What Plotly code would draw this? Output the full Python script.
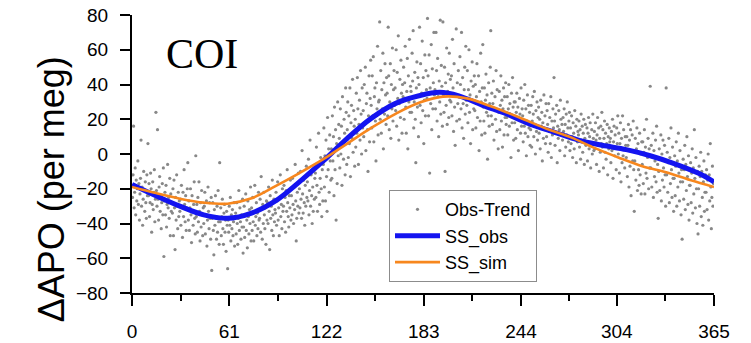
import plotly.graph_objects as go

# ---------------- data ----------------
x_ticks = [0, 61, 122, 183, 244, 304, 365]
x_minor = [30.5, 91.5, 152.5, 213.5, 274, 334.5]
y_ticks = [-80, -60, -40, -20, 0, 20, 40, 60, 80]
y_ticklabels = ["\u221280", "\u221260", "\u221240", "\u221220", "0", "20", "40", "60", "80"]

# smooth seasonal curves (day of year, per meg)
ss_obs_day = [0, 15, 30, 45, 60, 75, 90, 105, 120, 135, 150, 165, 180, 193, 205,
              220, 235, 250, 265, 280, 295, 310, 325, 340, 355, 365]
ss_obs_val = [-17.5, -24, -30, -35, -37, -34, -27, -16, -4, 9, 20.5, 29, 33.5, 35.5, 33.5,
              28, 23, 17, 12.5, 8, 5, 2.5, -1, -5.5, -11, -16]

ss_sim_day = [0, 15, 30, 45, 60, 75, 90, 105, 120, 135, 150, 165, 180, 195, 210,
              225, 243, 260, 275, 290, 305, 320, 335, 350, 365]
ss_sim_val = [-19, -22.5, -25.7, -28, -28.6, -25.5, -18.5, -11, -3, 6, 15, 23, 29.5, 33, 32,
              27.5, 21, 14.5, 9.7, 3.5, -2, -7, -10.5, -15, -19]

# Obs-Trend scatter: values in 5-day bins (15 values per bin, 1/3 day apart)
obs_trend_bins = [
    [-18, -25, -12, 16, -31, -22, -8, -35, -15, -27, -20, -4, -29, -17, -38],
    [-23, -14, 8, -30, -19, -41, -26, -10, -21, -33, -16, -28, -37, -12, -24],
    [6, -24, -17, -36, -28, -11, -20, -45, -29, -16, -32, -22, -9, -39, -26],
    [24, -21, -30, 14, -26, -38, -19, -13, -33, -24, -43, -28, -17, -35, -8],
    [-59, -27, -22, -35, -18, -42, -29, -6, -31, -25, -37, -14, -47, -23, -33],
    [-28, -34, -20, -47, -15, -31, -55, -25, -38, -12, -30, -43, -22, -36, -27],
    [-33, -26, -41, -18, -30, -48, -22, -36, -9, -29, -39, -24, -44, -31, -20],
    [-5, -38, -27, -44, -31, -20, -35, -51, -24, -33, -41, -29, -16, -37, -46],
    [-1, -36, -29, -45, -25, -39, -16, -33, -50, -28, -42, -21, -35, -47, -31],
    [-40, -30, -22, -46, -35, -27, -53, -38, -19, -33, -43, -28, -37, -49, -25],
    [-67, -37, -28, -44, -58, -32, -41, -24, -36, -49, -30, -45, -21, -39, -52],
    [-5, -39, -31, -47, -36, -26, -43, -52, -34, -29, -45, -38, -56, -33, -41],
    [-66, -38, -45, -30, -41, -25, -50, -35, -43, -32, -47, -39, -28, -53, -36],
    [-34, -46, -28, -40, -52, -37, -21, -44, -31, -39, -49, -35, -42, -26, -57],
    [-42, -30, -48, -35, -23, -44, -38, -54, -27, -36, -46, -32, -40, -19, -50],
    [-31, -44, -25, -39, -50, -33, -18, -41, -36, -28, -47, -34, -43, -22, -38],
    [-37, -26, -45, -13, -32, -49, -29, -40, -22, -35, -43, -31, -52, -27, -38],
    [-28, -40, -19, -33, -55, -24, -37, -30, -44, -15, -35, -47, -26, -39, -32],
    [-34, -22, -41, -27, -16, -38, -31, -47, -25, -12, -36, -29, -43, -20, -33],
    [-30, -18, -39, -25, -45, -21, -33, -9, -28, -36, -42, -24, -31, -15, -38],
    [-24, -35, -14, -29, -40, -19, -32, -6, -27, -50, -37, -22, -30, -11, -34],
    [-20, -31, -10, -26, -37, 2, -23, -34, -15, -28, -41, -18, -30, -7, -25],
    [-16, -27, -3, -35, -21, 8, -30, -12, -24, -40, -19, -33, -9, -26, -14],
    [-11, -25, 4, -18, -33, -7, 12, -22, -29, -14, -2, -20, -36, -9, -27],
    [-6, 15, -19, -1, -27, 8, -13, -33, 21, -9, 3, -22, 11, -4, -15],
    [3, -14, 22, -4, 10, -24, 27, -9, 14, -38, 6, -17, 30, -1, 17],
    [9, -8, 26, 0, 16, -18, 33, 5, -3, 20, 12, -12, 38, 24, -6],
    [14, 30, -2, 22, 6, 38, -13, 18, 28, 9, 43, 1, 25, 16, -7],
    [20, 4, 35, 12, 44, 26, -6, 17, 31, 8, 48, 23, 0, 38, 15],
    [25, 10, 40, 18, 50, 2, 29, 35, 14, -10, 22, 45, 7, 32, 54],
    [28, 15, 45, 22, 56, 7, 33, 38, 19, -4, 41, 26, 62, 11, 30],
    [31, 76, 20, 48, 12, 37, 26, 58, 3, 41, 23, 52, 34, 17, 44],
    [35, 22, 73, 45, 14, 30, 52, 9, 40, 26, 61, 19, 37, 48, 28],
    [38, 25, 60, 16, 47, 32, 68, 8, 29, 43, 21, 54, 35, 12, 40],
    [33, 50, 20, 41, 62, 27, 12, 36, 55, 3, 45, 30, 66, 24, 39],
    [36, 24, 58, 42, 71, 15, 30, 47, 20, -5, 38, 53, 27, 44, 10],
    [40, 73, 28, 52, 18, 35, 65, 25, 44, 6, 31, 57, 22, 48, 37],
    [32, 78, 45, 22, 57, -11, 38, 29, 63, 14, 49, 26, 41, 70, 34],
    [37, 26, 70, 48, 19, 55, 33, 10, 42, 30, 77, 23, 51, 39, 16],
    [76, 34, 24, 50, -10, 41, 28, 61, 17, 36, 46, 21, 58, 31, 43],
    [30, 45, 22, 66, 38, 13, 52, 27, 5, 34, 72, 19, 41, 29, 48],
    [33, 20, 56, 40, 26, 70, 15, 44, 29, 9, 37, 50, 23, 62, 31],
    [28, 48, 18, 37, 60, 24, 34, 6, 42, 31, 53, 14, 39, 26, 45],
    [25, 40, 15, 33, 52, 21, 29, 45, 2, 36, 19, 58, 30, 11, 38],
    [63, 27, 19, 38, 12, 31, 46, 24, 34, -3, 22, 41, 16, 29, 50],
    [71, 22, 35, 17, 29, 42, 8, 26, 33, 20, 48, 13, 37, 25, 3],
    [24, 36, 14, 28, 45, 19, 31, 4, 26, 38, 11, 33, 21, 41, 17],
    [21, 33, 11, 26, 40, 16, 29, 23, -2, 35, 18, 44, 27, 8, 30],
    [18, 30, 9, 24, 35, 14, 27, 2, 20, 32, 23, 12, 38, 16, 26],
    [22, 7, 31, 16, 40, 12, 26, -1, 19, 34, 10, 28, 15, 24, 5],
    [14, 28, 4, 19, 33, 23, 10, 36, 17, 0, 25, 13, 30, 8, 21],
    [27, 12, 20, 3, 31, 16, 24, -4, 18, 9, 34, 14, 22, 6, 29],
    [10, 25, 17, 1, 29, 13, 21, 6, 33, -2, 19, 11, 26, 15, 44],
    [19, 5, 23, 12, 28, -5, 16, 9, 25, 14, 2, 31, 20, 11, 17],
    [8, 21, 13, 26, -1, 17, 4, 23, 11, 30, 15, 7, 19, 24, 2],
    [15, 6, 22, 10, -2, 18, 12, 3, 25, 9, 16, -5, 20, 7, 13],
    [11, 19, 4, 14, -3, 23, 8, 16, 1, 12, 20, -6, 9, 17, 5],
    [7, 15, -4, 12, 21, 3, 10, 18, -8, 6, 14, 0, 23, 9, 2],
    [13, 3, 18, 8, -6, 11, 21, 5, 15, -10, 9, 1, 16, 6, 24],
    [4, 14, -8, 9, 19, 1, 12, -3, 6, 17, -12, 10, 3, 15, 7],
    [9, -5, 13, 2, 20, -14, 7, 16, -1, 11, 4, -9, 15, 6, 22],
    [0, 12, -11, 6, 18, -16, 9, -5, 22, -1, 14, 3, -8, 10, 5],
    [-2, 10, -13, 5, 17, -19, 8, -7, 14, -24, 2, 11, -4, 19, -9],
    [-33, -4, 9, -15, 3, 15, -21, 6, -9, -18, 12, -12, 0, -23, 7],
    [-6, 7, -17, 1, 14, -23, 4, -11, 20, -14, -2, 9, -20, 3, -8],
    [39, -8, 5, -19, -1, 12, -25, 2, -13, -4, 8, -16, 16, -22, -6],
    [-37, -10, 3, -21, -3, 11, -27, 0, -15, 8, -8, -19, 5, -12, -30],
    [38, -12, 1, -22, -5, 9, -28, -2, -17, 15, -9, -25, 4, -14, -33],
    [-14, -1, -24, -7, 7, -30, -4, -19, 12, -11, -27, 2, -16, -35, -9],
    [-49, -16, -3, -26, -9, 5, -32, -6, -21, 10, -13, -29, -1, -38, -18],
    [-18, -5, -28, -11, 3, -34, -8, -23, 14, -14, -31, -2, -20, -40, -10],
    [-46, -20, -7, -30, -13, 1, -36, -10, -25, -41, -16, -4, -33, -22, -12],
    [-22, -9, -32, -15, 0, -38, -12, -27, 6, -19, -43, -25, -7, -30, -17],
]

obs_day = []
obs_val = []
for b, vals in enumerate(obs_trend_bins):
    n = len(vals)
    for j, v in enumerate(vals):
        obs_day.append(5 * b + 5.0 * j / n)
        obs_val.append(v)

# ---------------- figure ----------------
FONT = "Liberation Sans, Arial, sans-serif"

fig = go.Figure()
fig.add_trace(go.Scatter(
    x=obs_day, y=obs_val, mode="markers", name="Obs-Trend",
    marker=dict(size=3.2, color="#888888", line=dict(width=0)),
))
fig.add_trace(go.Scatter(
    x=ss_obs_day, y=ss_obs_val, mode="lines", name="SS_obs",
    line=dict(color="#1414f0", width=5, shape="spline", smoothing=1.0),
))
fig.add_trace(go.Scatter(
    x=ss_sim_day, y=ss_sim_val, mode="lines", name="SS_sim",
    line=dict(color="#f7871e", width=2.6, shape="spline", smoothing=1.0),
))

fig.update_layout(
    width=751, height=343,
    margin=dict(l=132, r=37, t=15, b=50, autoexpand=False),
    plot_bgcolor="white", paper_bgcolor="white",
    font=dict(family=FONT, color="black", size=19),
    showlegend=True,
    legend=dict(
        x=0.4416, y=0.37, xanchor="left", yanchor="top",
        bordercolor="#8c8c8c", borderwidth=1, bgcolor="white",
        font=dict(family=FONT, size=18, color="black"),
        itemwidth=45, tracegroupgap=0,
    ),
    xaxis=dict(
        range=[0, 365], tickmode="array", tickvals=x_ticks,
        ticktext=[str(t) for t in x_ticks],
        ticks="outside", ticklen=11, tickwidth=2, tickcolor="black",
        showline=True, linewidth=2, linecolor="black",
        showgrid=False, zeroline=False, automargin=False,
        tickfont=dict(family=FONT, size=19),
        ticklabelstandoff=9,
        minor=dict(tickmode="array", tickvals=x_minor, ticks="outside",
                   ticklen=6, tickwidth=2, tickcolor="black", showgrid=False),
    ),
    yaxis=dict(
        range=[-80, 80], tickmode="array", tickvals=y_ticks, ticktext=y_ticklabels,
        ticks="outside", ticklen=10, tickwidth=2, tickcolor="black",
        showline=True, linewidth=2, linecolor="black",
        showgrid=False, zeroline=False, automargin=False,
        tickfont=dict(family=FONT, size=19),
        ticklabelstandoff=8,
    ),
    annotations=[
        dict(text="\u0394APO (per meg)", x=-0.138, y=0.372, xref="paper", yref="paper",
             textangle=-90, showarrow=False, xanchor="center", yanchor="middle",
             font=dict(family=FONT, size=36, color="black")),
        dict(text="COI", x=0.12, y=0.86, xref="paper", yref="paper",
             showarrow=False, xanchor="center", yanchor="middle",
             font=dict(family="Liberation Serif, Times New Roman, serif", size=42, color="black")),
    ],
)

fig.write_html("out.html")
